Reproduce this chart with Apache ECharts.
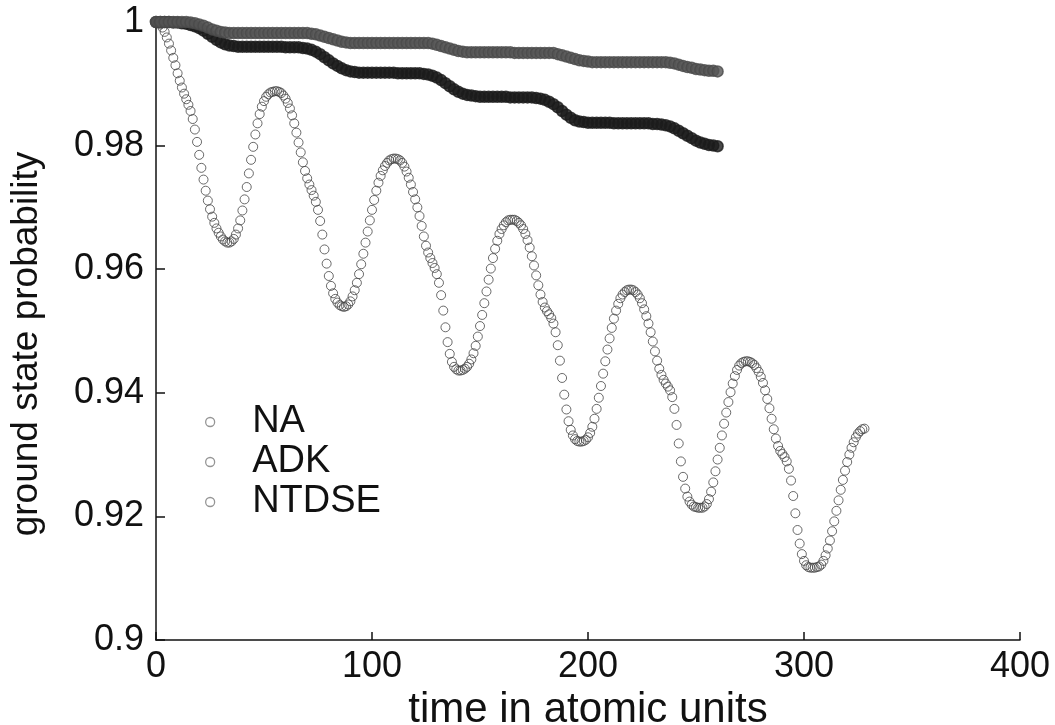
<!DOCTYPE html>
<html>
<head>
<meta charset="utf-8">
<title>ground state probability</title>
<script src="https://cdn.jsdelivr.net/npm/echarts@6.0.0/dist/echarts.min.js"></script>
<style>
  html, body { margin: 0; padding: 0; background: #ffffff; }
  #chart { width: 1055px; height: 725px; }
</style>
</head>
<body>
<div id="chart"></div>
<script>
// Ground-state survival probability of the three models, sampled in time (atomic units).
const seriesNames = ['NA', 'ADK', 'NTDSE'];
const xTicks = [0, 100, 200, 300, 400];
const yTicks = [0.9, 0.92, 0.94, 0.96, 0.98, 1];

// NA and ADK are sampled every 2 a.u. from t = 0
const bandStep = 2;
const naValues = [
  1.0000, 1.0000, 1.0000, 1.0000, 0.9999, 0.9999, 0.9998, 0.9997, 0.9995, 0.9993,
  0.9990, 0.9986, 0.9981, 0.9976, 0.9971, 0.9967, 0.9964, 0.9962, 0.9961, 0.9960,
  0.9960, 0.9960, 0.9960, 0.9960, 0.9960, 0.9960, 0.9960, 0.9960, 0.9960, 0.9960,
  0.9959, 0.9959, 0.9959, 0.9959, 0.9958, 0.9957, 0.9955, 0.9952, 0.9948, 0.9943,
  0.9938, 0.9933, 0.9929, 0.9925, 0.9922, 0.9920, 0.9919, 0.9918, 0.9918, 0.9918,
  0.9918, 0.9918, 0.9918, 0.9918, 0.9918, 0.9918, 0.9917, 0.9917, 0.9917, 0.9917,
  0.9917, 0.9917, 0.9916, 0.9915, 0.9913, 0.9910, 0.9906, 0.9901, 0.9896, 0.9891,
  0.9887, 0.9884, 0.9882, 0.9881, 0.9880, 0.9879, 0.9879, 0.9879, 0.9879, 0.9879,
  0.9879, 0.9879, 0.9878, 0.9878, 0.9878, 0.9878, 0.9878, 0.9878, 0.9877, 0.9876,
  0.9874, 0.9871, 0.9867, 0.9862, 0.9856, 0.9850, 0.9845, 0.9841, 0.9839, 0.9838,
  0.9837, 0.9837, 0.9837, 0.9837, 0.9837, 0.9837, 0.9836, 0.9836, 0.9836, 0.9836,
  0.9836, 0.9836, 0.9836, 0.9836, 0.9836, 0.9835, 0.9835, 0.9834, 0.9833, 0.9831,
  0.9828, 0.9824, 0.9820, 0.9816, 0.9812, 0.9808, 0.9805, 0.9803, 0.9801, 0.9800,
  0.9799
];
const adkValues = [
  1.0000, 1.0000, 1.0000, 1.0000, 1.0000, 1.0000, 1.0000, 1.0000, 0.9999, 0.9998,
  0.9996, 0.9994, 0.9991, 0.9988, 0.9986, 0.9984, 0.9983, 0.9982, 0.9982, 0.9982,
  0.9982, 0.9982, 0.9982, 0.9982, 0.9982, 0.9982, 0.9982, 0.9982, 0.9982, 0.9982,
  0.9982, 0.9982, 0.9982, 0.9982, 0.9982, 0.9982, 0.9981, 0.9980, 0.9978, 0.9976,
  0.9974, 0.9972, 0.9970, 0.9968, 0.9967, 0.9966, 0.9966, 0.9966, 0.9966, 0.9966,
  0.9966, 0.9966, 0.9966, 0.9966, 0.9966, 0.9966, 0.9966, 0.9966, 0.9966, 0.9966,
  0.9966, 0.9966, 0.9966, 0.9966, 0.9965, 0.9963, 0.9961, 0.9959, 0.9957, 0.9955,
  0.9953, 0.9952, 0.9951, 0.9951, 0.9951, 0.9951, 0.9951, 0.9951, 0.9951, 0.9951,
  0.9951, 0.9951, 0.9951, 0.9950, 0.9950, 0.9950, 0.9950, 0.9950, 0.9950, 0.9950,
  0.9950, 0.9950, 0.9950, 0.9948, 0.9946, 0.9944, 0.9942, 0.9940, 0.9938, 0.9937,
  0.9936, 0.9935, 0.9935, 0.9935, 0.9935, 0.9935, 0.9935, 0.9935, 0.9935, 0.9935,
  0.9935, 0.9935, 0.9935, 0.9935, 0.9935, 0.9935, 0.9935, 0.9935, 0.9935, 0.9934,
  0.9933, 0.9931, 0.9929, 0.9927, 0.9926, 0.9924, 0.9923, 0.9922, 0.9921, 0.9921,
  0.9920
];

// NTDSE is sampled every 1 a.u. from t = 0
const ntdseStep = 1;
const ntdseValues = [
  1.0000, 0.9999, 0.9996, 0.9991, 0.9984, 0.9975, 0.9965, 0.9954, 0.9942, 0.9930,
  0.9917, 0.9905, 0.9894, 0.9884, 0.9875, 0.9866, 0.9856, 0.9843, 0.9826, 0.9806,
  0.9785, 0.9764, 0.9745, 0.9727, 0.9711, 0.9697, 0.9685, 0.9675, 0.9666, 0.9659,
  0.9653, 0.9648, 0.9645, 0.9643, 0.9643, 0.9645, 0.9649, 0.9656, 0.9666, 0.9679,
  0.9695, 0.9713, 0.9733, 0.9755, 0.9777, 0.9798, 0.9818, 0.9836, 0.9851, 0.9863,
  0.9872, 0.9879, 0.9883, 0.9886, 0.9887, 0.9888, 0.9888, 0.9887, 0.9885, 0.9881,
  0.9876, 0.9869, 0.9860, 0.9849, 0.9836, 0.9821, 0.9805, 0.9789, 0.9773, 0.9759,
  0.9747, 0.9737, 0.9728, 0.9719, 0.9709, 0.9696, 0.9678, 0.9656, 0.9632, 0.9609,
  0.9589, 0.9573, 0.9561, 0.9552, 0.9546, 0.9542, 0.9540, 0.9539, 0.9540, 0.9543,
  0.9548, 0.9556, 0.9566, 0.9578, 0.9592, 0.9608, 0.9625, 0.9643, 0.9661, 0.9679,
  0.9696, 0.9712, 0.9727, 0.9740, 0.9751, 0.9760, 0.9767, 0.9772, 0.9776, 0.9778,
  0.9779, 0.9779, 0.9778, 0.9776, 0.9772, 0.9766, 0.9758, 0.9748, 0.9737, 0.9725,
  0.9713, 0.9700, 0.9686, 0.9670, 0.9653, 0.9638, 0.9627, 0.9618, 0.9610, 0.9602,
  0.9592, 0.9578, 0.9558, 0.9533, 0.9506, 0.9482, 0.9463, 0.9450, 0.9442, 0.9438,
  0.9436, 0.9436, 0.9437, 0.9439, 0.9442, 0.9447, 0.9454, 0.9464, 0.9476, 0.9491,
  0.9508, 0.9526, 0.9545, 0.9564, 0.9583, 0.9601, 0.9618, 0.9633, 0.9646, 0.9657,
  0.9665, 0.9671, 0.9676, 0.9679, 0.9680, 0.9680, 0.9680, 0.9678, 0.9675, 0.9671,
  0.9665, 0.9657, 0.9647, 0.9635, 0.9621, 0.9606, 0.9590, 0.9574, 0.9559, 0.9547,
  0.9538, 0.9532, 0.9527, 0.9521, 0.9512, 0.9498, 0.9477, 0.9452, 0.9424, 0.9397,
  0.9373, 0.9354, 0.9340, 0.9331, 0.9325, 0.9322, 0.9321, 0.9321, 0.9322, 0.9324,
  0.9328, 0.9335, 0.9345, 0.9358, 0.9374, 0.9392, 0.9411, 0.9431, 0.9451, 0.9470,
  0.9488, 0.9505, 0.9520, 0.9533, 0.9544, 0.9553, 0.9559, 0.9563, 0.9566, 0.9567,
  0.9567, 0.9566, 0.9563, 0.9559, 0.9553, 0.9545, 0.9535, 0.9524, 0.9512, 0.9498,
  0.9483, 0.9467, 0.9452, 0.9439, 0.9429, 0.9421, 0.9415, 0.9410, 0.9404, 0.9393,
  0.9374, 0.9348, 0.9318, 0.9289, 0.9264, 0.9245, 0.9232, 0.9224, 0.9219, 0.9216,
  0.9215, 0.9214, 0.9214, 0.9214, 0.9216, 0.9220, 0.9228, 0.9240, 0.9255, 0.9273,
  0.9292, 0.9311, 0.9331, 0.9350, 0.9368, 0.9385, 0.9401, 0.9415, 0.9427, 0.9437,
  0.9444, 0.9448, 0.9450, 0.9451, 0.9451, 0.9450, 0.9448, 0.9445, 0.9440, 0.9434,
  0.9426, 0.9416, 0.9404, 0.9390, 0.9375, 0.9358, 0.9341, 0.9326, 0.9314, 0.9306,
  0.9301, 0.9296, 0.9289, 0.9277, 0.9258, 0.9233, 0.9205, 0.9178, 0.9156, 0.9139,
  0.9128, 0.9121, 0.9118, 0.9117, 0.9117, 0.9117, 0.9118, 0.9119, 0.9122, 0.9128,
  0.9137, 0.9148, 0.9161, 0.9176, 0.9192, 0.9209, 0.9226, 0.9243, 0.9259, 0.9274,
  0.9288, 0.9300, 0.9311, 0.9320, 0.9328, 0.9334, 0.9338, 0.9341, 0.9342
];

const FONT = "'Liberation Sans', Arial, Helvetica, sans-serif";
const INK = '#111111';

function pairs(values, step) {
  return values.map((p, i) => [i * step, p]);
}

function circleSeries(name, data, size, fill, stroke, width, z) {
  return {
    name: name,
    type: 'scatter',
    data: data,
    symbol: 'circle',
    symbolSize: size,
    clip: false,
    silent: true,
    z: z,
    itemStyle: { color: fill, borderColor: stroke, borderWidth: width },
    emphasis: { disabled: true }
  };
}

const chart = echarts.init(document.getElementById('chart'), null, { renderer: 'canvas' });

chart.setOption({
  animation: false,
  backgroundColor: '#ffffff',
  grid: { left: 156, right: 35, top: 22, bottom: 85, containLabel: false, outerBoundsMode: 'none' },
  xAxis: {
    type: 'value',
    min: xTicks[0],
    max: xTicks[xTicks.length - 1],
    interval: xTicks[1] - xTicks[0],
    axisLine: { show: true, onZero: false, lineStyle: { color: INK, width: 1.5 } },
    axisTick: { show: true, inside: true, length: 8, lineStyle: { color: INK, width: 1.5 } },
    splitLine: { show: false },
    axisLabel: { fontFamily: FONT, fontSize: 36, color: INK, margin: 9 },
    name: 'time in atomic units',
    nameLocation: 'middle',
    nameGap: 39,
    nameTextStyle: { fontFamily: FONT, fontSize: 42, color: INK }
  },
  yAxis: {
    type: 'value',
    min: yTicks[0],
    max: yTicks[yTicks.length - 1],
    interval: 0.02,
    axisLine: { show: true, onZero: false, lineStyle: { color: INK, width: 1.5 } },
    axisTick: { show: true, inside: true, length: 9, lineStyle: { color: INK, width: 1.5 } },
    splitLine: { show: false },
    axisLabel: {
      fontFamily: FONT, fontSize: 36, color: INK, margin: 12,
      formatter: v => String(+v.toFixed(2))
    },
    name: 'ground state probability',
    nameLocation: 'middle',
    nameGap: 111,
    nameRotate: 90,
    nameTextStyle: { fontFamily: FONT, fontSize: 37, color: INK, padding: [0, 26, 0, 0] }
  },
  legend: {
    orient: 'vertical',
    left: 200,
    top: 397,
    itemWidth: 74,
    itemHeight: 9,
    itemGap: 0,
    selectedMode: false,
    textStyle: { fontFamily: FONT, fontSize: 38, color: INK, lineHeight: 40 },
    data: seriesNames.map(n => ({
      name: n,
      icon: 'circle',
      itemStyle: { color: '#ffffff', borderColor: '#7a7a7a', borderWidth: 1.3 }
    }))
  },
  series: [
    circleSeries('NA', pairs(naValues, bandStep), 11, '#1c1c1c', '#1c1c1c', 1.5, 3),
    circleSeries('ADK', pairs(adkValues, bandStep), 11, '#555555', '#4a4a4a', 1.5, 4),
    circleSeries('NTDSE', pairs(ntdseValues, ntdseStep), 9, 'rgba(255,255,255,0)', '#454545', 1, 2)
  ]
});
</script>
</body>
</html>
